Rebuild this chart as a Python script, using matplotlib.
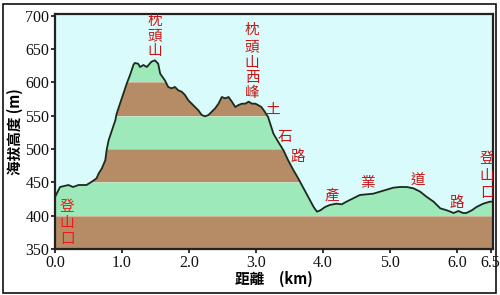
import matplotlib
matplotlib.use("Agg")
import matplotlib.pyplot as plt
import numpy as np
from matplotlib.patches import Rectangle

# ---- data ----
dist_km = [0.00, 0.075, 0.20, 0.27, 0.35, 0.47, 0.55, 0.62, 0.65, 0.70, 0.75, 0.77, 0.80, 0.85,
           0.90, 0.92, 0.97, 1.02, 1.07, 1.12, 1.17, 1.19, 1.24, 1.27, 1.32, 1.37, 1.44, 1.49,
           1.54, 1.57, 1.64, 1.69, 1.74, 1.79, 1.84, 1.89, 1.94, 1.99, 2.04, 2.09, 2.14, 2.19,
           2.24, 2.29, 2.34, 2.39, 2.44, 2.49, 2.54, 2.59, 2.64, 2.69, 2.74, 2.79, 2.84, 2.89,
           2.94, 2.99, 3.03, 3.08, 3.13, 3.18, 3.26, 3.33, 3.41, 3.48, 3.56, 3.63, 3.71, 3.78,
           3.86, 3.91, 3.96, 4.03, 4.10, 4.20, 4.28, 4.35, 4.45, 4.55, 4.65, 4.75, 4.85, 4.95,
           5.05, 5.15, 5.25, 5.35, 5.45, 5.55, 5.65, 5.75, 5.85, 5.95, 6.02, 6.09, 6.14, 6.22,
           6.29, 6.39, 6.49, 6.54]
elev_m = [428, 443, 446, 443, 446, 446, 451, 456, 463, 471, 483, 498, 513, 528,
          543, 553, 568, 583, 598, 611, 626, 629, 628, 623, 626, 623, 631, 633,
          628, 613, 603, 593, 591, 593, 588, 586, 581, 573, 568, 563, 558, 551,
          549, 551, 556, 561, 568, 578, 576, 578, 571, 563, 566, 568, 568, 571,
          568, 568, 566, 563, 556, 548, 523, 511, 498, 483, 468, 456, 441, 428,
          413, 406, 408, 413, 416, 418, 417, 421, 426, 431, 432, 433, 436, 439,
          442, 443, 443, 441, 436, 428, 421, 411, 408, 404, 407, 404, 404, 408,
          413, 418, 421, 421]

x_ticks = [0.0, 1.0, 2.0, 3.0, 4.0, 5.0, 6.0, 6.5]
x_tick_labels = ["0.0", "1.0", "2.0", "3.0", "4.0", "5.0", "6.0", "6.5"]
y_ticks = [350, 400, 450, 500, 550, 600, 650, 700]

band_edges = [350, 400, 450, 500, 550, 600, 650, 700]

x_label = "距離　(km)"
y_label = "海拔高度 (m)"

# ---- styling ----
BG = "#d9fbfb"
BROWN = "#b58c66"
GREEN = "#9ee9ba"
RED = "#c81414"

fig = plt.figure(figsize=(5.0, 2.95), dpi=100)
fig.patch.set_facecolor("white")
ax = fig.add_axes([55 / 500, 1 - 249 / 295, (493 - 55) / 500, (249 - 14) / 295])
ax.set_facecolor(BG)
ax.set_xlim(0, 6.537)
ax.set_ylim(350, 702.5)

x = np.array(dist_km)
y = np.array(elev_m)

poly = ax.fill_between(x, 350, y, facecolor="none", edgecolor="none")
clip = poly.get_paths()[0]
for i in range(len(band_edges) - 1):
    lo, hi = band_edges[i], band_edges[i + 1]
    c = BROWN if i % 2 == 0 else GREEN
    r = ax.axhspan(lo, hi, color=c, lw=0, zorder=1)
    r.set_clip_path(poly.get_paths()[0], ax.transData)
    ln = ax.axhline(hi, color="#e8e0d0", lw=0.6, zorder=1.5, alpha=0.6)
    ln.set_clip_path(poly.get_paths()[0], ax.transData)

ax.plot(x, y, color="#1c2a1c", lw=1.3, zorder=3)

ax.set_xticks(x_ticks)
ax.set_xticklabels(x_tick_labels)
ax.set_yticks(y_ticks)
for lab in ax.get_xticklabels() + ax.get_yticklabels():
    lab.set_fontfamily("Liberation Serif")
    lab.set_fontsize(11.5)
    lab.set_color("#111111")
ax.tick_params(axis="both", direction="out", length=3, width=1.2, pad=1, color="#111111")

for s in ax.spines.values():
    s.set_linewidth(1.6)
    s.set_color("#222222")

ax.set_xlabel(x_label, fontfamily=["Noto Sans CJK TC", "DejaVu Sans"], fontweight="bold",
              fontsize=10.5, labelpad=0)
ax.set_ylabel(y_label, fontfamily=["Noto Sans CJK TC", "DejaVu Sans"], fontweight="bold",
              fontsize=10.5, labelpad=2)

cjk = ["Noto Sans CJK TC", "DejaVu Sans"]


def vtext(xk, ys, s, color=RED, size=10.5):
    for ch, yy in zip(s, ys):
        ax.text(xk, yy, ch, color=color, fontsize=size, fontfamily=cjk,
                ha="center", va="center", zorder=5, clip_on=True)


vtext(1.49, [692, 669, 647], "枕頭山")
vtext(2.94, [678, 652, 629, 607, 584], "枕頭山西峰")
vtext(3.25, [558], "土")
vtext(3.43, [518], "石")
vtext(3.63, [488], "路")
vtext(4.13, [431], "產")
vtext(4.67, [449], "業")
vtext(5.42, [453], "道")
vtext(5.99, [419], "路")
vtext(6.45, [485, 460, 434], "登山口")
vtext(0.18, [413, 389, 365], "登山口", color="#f01818")

fig.patches.append(Rectangle((3 / 500, 2 / 295), 493 / 500, 289 / 295, transform=fig.transFigure,
                             fill=False, edgecolor="#111111", lw=1.2))

fig.savefig("out.png", dpi=100, facecolor="white")
